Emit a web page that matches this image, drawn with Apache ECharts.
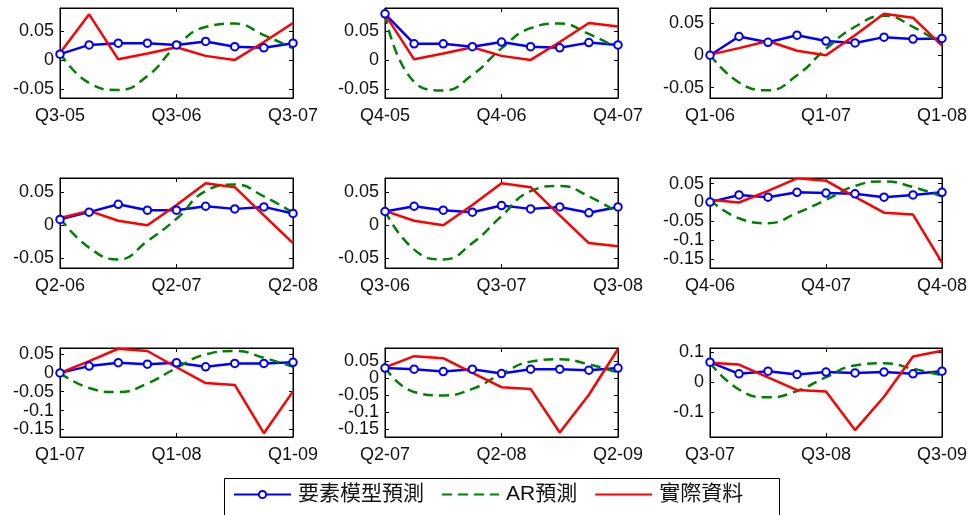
<!DOCTYPE html>
<html>
<head>
<meta charset="utf-8">
<script src="https://cdn.jsdelivr.net/npm/echarts@6/dist/echarts.min.js"></script>
<style>
html,body{margin:0;padding:0;background:#fff;}
#chart{width:972px;height:515px;}
</style>
</head>
<body>
<div id="chart"></div>
<script>
// Quarter labels (each panel shows 9 consecutive quarters starting at its offset)
const quarters = ['Q3-05','Q4-05','Q1-06','Q2-06','Q3-06','Q4-06','Q1-07','Q2-07','Q3-07',
                  'Q4-07','Q1-08','Q2-08','Q3-08','Q4-08','Q1-09','Q2-09','Q3-09'];

// Actual data per quarter (same actual series in all panels)
const actualData = [0.012, 0.079, 0.001, 0.011, 0.022, 0.007, 0.000, 0.031, 0.064,
                    0.058, 0.015, -0.027, -0.032, -0.160, -0.049, 0.085, 0.104];

// Factor-model forecasts, one list per panel
const model1 = [0.010, 0.026, 0.029, 0.029, 0.026, 0.032, 0.023, 0.021, 0.029];
const model2 = [0.080, 0.028, 0.028, 0.023, 0.031, 0.023, 0.021, 0.030, 0.026];
const model3 = [0.000, 0.029, 0.020, 0.031, 0.022, 0.019, 0.028, 0.025, 0.026];
const model4 = [0.009, 0.020, 0.032, 0.023, 0.023, 0.029, 0.025, 0.028, 0.018];
const model5 = [0.021, 0.029, 0.023, 0.020, 0.030, 0.025, 0.028, 0.019, 0.028];
const model6 = [0.001, 0.020, 0.014, 0.027, 0.025, 0.023, 0.014, 0.020, 0.027];
const model7 = [0.000, 0.018, 0.027, 0.023, 0.027, 0.016, 0.025, 0.025, 0.028];
const model8 = [0.029, 0.026, 0.019, 0.026, 0.013, 0.026, 0.026, 0.023, 0.029];
const model9 = [0.066, 0.027, 0.036, 0.025, 0.033, 0.030, 0.033, 0.027, 0.036];

// AR forecasts, one list per panel
const ar1 = [0.012, -0.040, -0.052, -0.028, 0.024, 0.057, 0.063, 0.043, 0.020];
const ar2 = [0.079, -0.038, -0.053, -0.026, 0.020, 0.055, 0.063, 0.045, 0.020];
const ar3 = [0.001, -0.042, -0.054, -0.031, 0.010, 0.044, 0.061, 0.044, 0.016];
const ar4 = [0.011, -0.034, -0.052, -0.024, 0.010, 0.052, 0.062, 0.044, 0.019];
const ar5 = [0.022, -0.037, -0.052, -0.027, 0.014, 0.052, 0.060, 0.044, 0.019];
const ar6 = [0.007, -0.042, -0.055, -0.028, 0.007, 0.044, 0.056, 0.041, 0.016];
const ar7 = [0.000, -0.040, -0.051, -0.028, 0.013, 0.049, 0.058, 0.040, 0.016];
const ar8 = [0.031, -0.041, -0.051, -0.032, 0.012, 0.048, 0.055, 0.040, 0.016];
const ar9 = [0.064, -0.025, -0.051, -0.030, 0.016, 0.055, 0.062, 0.044, 0.022];

// Y tick labels per panel
const ticksA = [-0.05, 0, 0.05];
const ticksB = [-0.15, -0.1, -0.05, 0, 0.05];
const ticksC = [-0.1, 0, 0.1];
const yTicks = [ticksA, ticksA, ticksA, ticksA, ticksA, ticksB, ticksB, ticksB, ticksC];
// Y axis ranges per panel [min, max]
const yRanges = [[-0.066, 0.090], [-0.066, 0.090], [-0.066, 0.073],
                 [-0.065, 0.072], [-0.065, 0.072], [-0.174, 0.065],
                 [-0.170, 0.066], [-0.173, 0.088], [-0.183, 0.113]];

const seriesNames = ['要素模型預測', 'AR預測', '實際資料'];

const models = [model1, model2, model3, model4, model5, model6, model7, model8, model9];
const ars = [ar1, ar2, ar3, ar4, ar5, ar6, ar7, ar8, ar9];

const gridLefts = [60, 385, 710];
const gridWidths = [233, 233, 232];
const gridTops = [8, 178, 348];
const gridHeights = [90, 90, 89];

const latinFont = '"Liberation Sans", Arial, sans-serif';
const cjkFont = '"Liberation Sans", "Noto Sans CJK TC", sans-serif';

const grids = [], xAxes = [], yAxes = [], series = [];
for (let p = 0; p < 9; p++) {
  const r = Math.floor(p / 3), c = p % 3;
  grids.push({left: gridLefts[c], top: gridTops[r], width: gridWidths[c], height: gridHeights[r],
              show: true, borderColor: '#000', borderWidth: 1, backgroundColor: '#fff'});
  const labels = quarters.slice(p, p + 9);
  const axisLine = {show: true, onZero: false, lineStyle: {color: '#000', width: 1}};
  xAxes.push({type: 'category', gridIndex: p, data: labels, boundaryGap: false, position: 'bottom',
              axisLine: axisLine,
              axisTick: {show: true, inside: true, length: 4, interval: 3, lineStyle: {color: '#000'}},
              axisLabel: {show: true, interval: 3, margin: 9, color: '#111', fontSize: 18, fontFamily: latinFont},
              splitLine: {show: false}});
  xAxes.push({type: 'category', gridIndex: p, data: labels, boundaryGap: false, position: 'top',
              axisLine: axisLine,
              axisTick: {show: true, inside: true, length: 4, interval: 3, lineStyle: {color: '#000'}},
              axisLabel: {show: false}, splitLine: {show: false}});
  const yr = yRanges[p];
  const ticks = yTicks[p];
  const evenTicks = ticks.filter((v, i) => i % 2 === 0);
  const oddTicks = ticks.filter((v, i) => i % 2 === 1);
  const labelStyle = {margin: 6, color: '#111', fontSize: 18, interval: 0, hideOverlap: false,
                      fontFamily: latinFont, formatter: v => String(+(+v).toFixed(3))};
  // main left axis: line, all ticks, labels for even-indexed ticks
  yAxes.push({type: 'value', gridIndex: p, min: yr[0], max: yr[1], position: 'left',
              axisLine: axisLine,
              axisTick: {show: true, inside: true, length: 4, customValues: ticks, lineStyle: {color: '#000'}},
              axisLabel: Object.assign({show: true, customValues: evenTicks}, labelStyle),
              splitLine: {show: false}});
  // right axis: ticks only
  yAxes.push({type: 'value', gridIndex: p, min: yr[0], max: yr[1], position: 'right',
              axisLine: axisLine,
              axisTick: {show: true, inside: true, length: 4, customValues: ticks, lineStyle: {color: '#000'}},
              axisLabel: {show: false}, splitLine: {show: false}});
  // second left axis: labels for odd-indexed ticks (so tightly packed labels all show)
  yAxes.push({type: 'value', gridIndex: p, min: yr[0], max: yr[1], position: 'left', offset: 0,
              axisLine: {show: false, onZero: false}, axisTick: {show: false},
              axisLabel: Object.assign({show: oddTicks.length > 0, customValues: oddTicks}, labelStyle),
              splitLine: {show: false}});

  series.push({name: seriesNames[0], type: 'line', xAxisIndex: 2 * p, yAxisIndex: 3 * p,
               data: models[p], symbol: 'circle', symbolSize: 7.5, showSymbol: true,
               itemStyle: {color: '#fff', borderColor: '#0000ff', borderWidth: 2},
               lineStyle: {color: '#0000ff', width: 2.5}, silent: true});
  series.push({name: seriesNames[1], type: 'line', xAxisIndex: 2 * p, yAxisIndex: 3 * p,
               data: ars[p], symbol: 'none', smooth: true,
               itemStyle: {color: '#008000'},
               lineStyle: {color: '#008000', width: 2.5, type: [10, 6]}, silent: true});
  series.push({name: seriesNames[2], type: 'line', xAxisIndex: 2 * p, yAxisIndex: 3 * p,
               data: actualData.slice(p, p + 9), symbol: 'none',
               itemStyle: {color: '#ff0000'},
               lineStyle: {color: '#ff0000', width: 2.5}, silent: true});
}

const chart = echarts.init(document.getElementById('chart'), null, {renderer: 'canvas'});
chart.setOption({
  backgroundColor: '#fff',
  animation: false,
  grid: grids,
  xAxis: xAxes,
  yAxis: yAxes,
  series: series,
  legend: {
    left: 233, top: 484, padding: 0,
    itemWidth: 57, itemHeight: 9, itemGap: 17,
    selectedMode: false,
    textStyle: {color: '#111', fontSize: 21, fontFamily: cjkFont, padding: [0, 0, 0, 2]},
    data: [
      {name: seriesNames[0]},
      {name: seriesNames[1], itemStyle: {opacity: 0}},
      {name: seriesNames[2], itemStyle: {opacity: 0}}
    ]
  },
  graphic: [{
    type: 'rect', left: 224, top: 478, z: -1, silent: true,
    shape: {width: 555, height: 40},
    style: {fill: '#fff', stroke: '#000', lineWidth: 1}
  }]
});
</script>
</body>
</html>
